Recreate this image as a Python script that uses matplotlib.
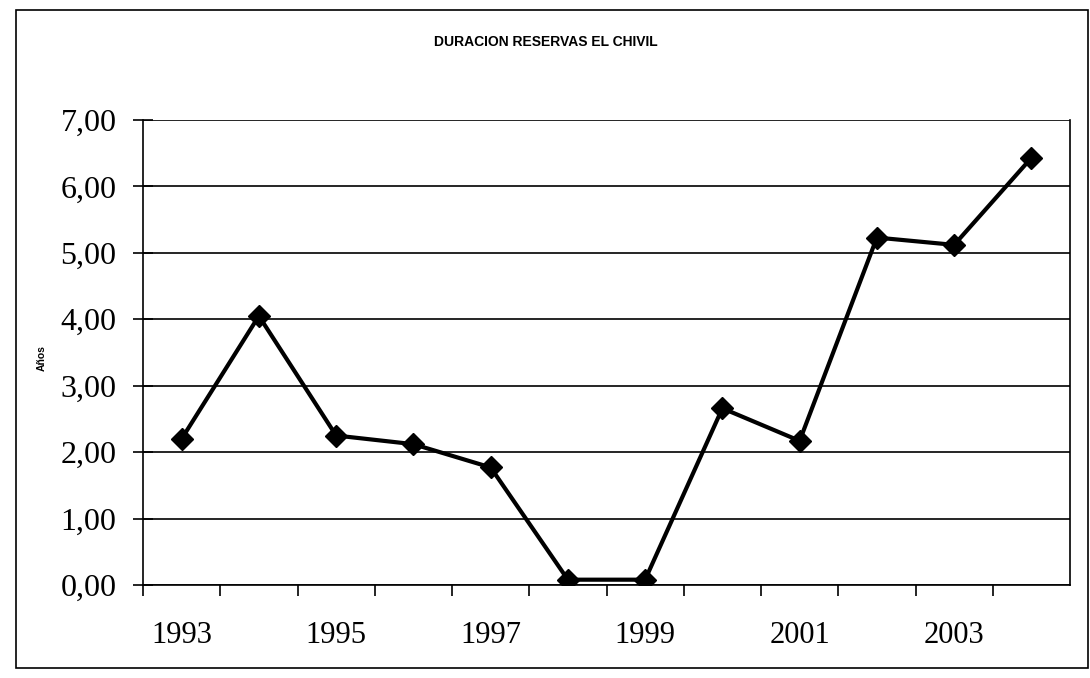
import matplotlib.pyplot as plt
from matplotlib.patches import Rectangle

years = [1993, 1994, 1995, 1996, 1997, 1998, 1999, 2000, 2001, 2002, 2003, 2004]
duracion = [2.20, 4.05, 2.25, 2.12, 1.77, 0.08, 0.08, 2.66, 2.17, 5.23, 5.12, 6.43]
y_ticks = [0, 1, 2, 3, 4, 5, 6, 7]
y_labels = ['0,00', '1,00', '2,00', '3,00', '4,00', '5,00', '6,00', '7,00']

fig = plt.figure(figsize=(10.90, 6.78), dpi=100)

# Outer chart border.
fig.patches.append(Rectangle((16 / 1090, 1 - 668 / 678), 1072 / 1090, 658 / 678,
                             transform=fig.transFigure, fill=False,
                             edgecolor='black', linewidth=1.2))

ax = fig.add_axes([143 / 1090, 1 - 585 / 678, 927 / 1090, 465 / 678])

# Category axis: points sit in the middle of each slot.
pos = list(range(len(years)))
ax.plot(pos, duracion, color='black', linewidth=3, marker='D', markersize=11,
        markerfacecolor='black', markeredgecolor='black', zorder=3)

ax.set_xlim(-0.5, len(years) - 0.5)
ax.set_ylim(0, 7)

# Tick marks between categories, labels every other year.
ax.set_xticks([p - 0.5 for p in pos], minor=False)
ax.set_xticklabels([])
ax.set_xticks(pos[::2], minor=True)
ax.set_xticklabels([str(y) for y in years[::2]], minor=True,
                   fontfamily='Liberation Serif', fontsize=22)
ax.tick_params(axis='x', which='minor', length=0, pad=26)
ax.tick_params(axis='x', which='major', length=8, width=1.2, direction='out')

ax.set_yticks(y_ticks)
ax.set_yticklabels(y_labels, fontfamily='Liberation Serif', fontsize=23)
ax.tick_params(axis='y', length=14, width=1.2, direction='inout', pad=12)

ax.yaxis.grid(True, color='black', linewidth=1.2)
ax.set_axisbelow(True)

for side in ['left', 'bottom', 'right']:
    ax.spines[side].set_linewidth(1.2)
ax.spines['top'].set_visible(False)

fig.text(546 / 1090, 1 - 42 / 678, 'DURACION RESERVAS EL CHIVIL',
         ha='center', va='center', fontsize=10, fontweight='bold',
         fontfamily='Liberation Sans')
fig.text(42 / 1090, 1 - 358 / 678, 'Años', ha='center', va='center',
         rotation=90, fontsize=7.5, fontweight='bold',
         fontfamily='Liberation Sans')

fig.savefig('out.png', dpi=100, facecolor='white')
